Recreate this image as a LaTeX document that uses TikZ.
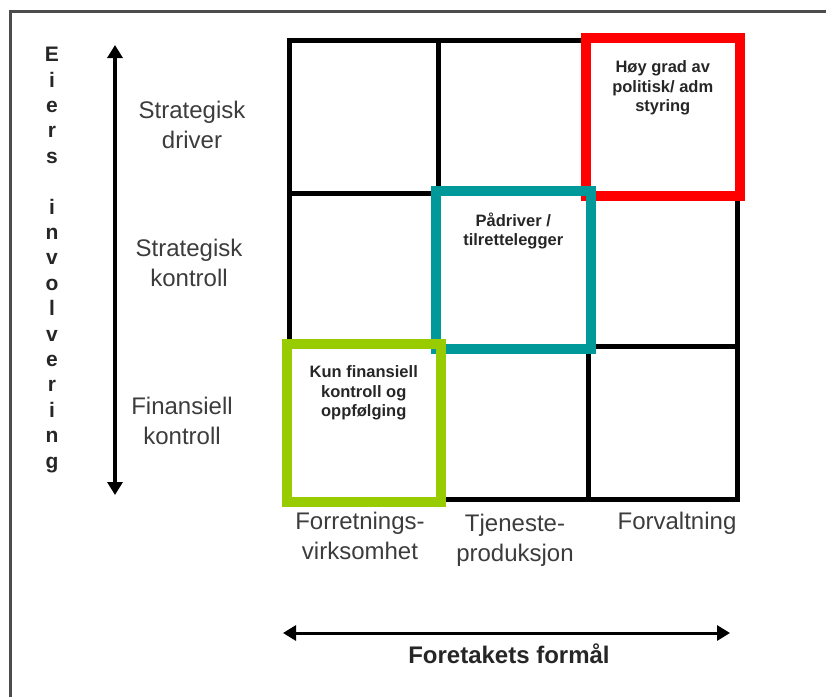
\documentclass[tikz,border=0pt]{standalone}
\usepackage{fontspec}
\setmainfont{Liberation Sans}
\usepackage{xcolor}
\usetikzlibrary{arrows.meta}
\definecolor{redbox}{RGB}{255,0,0}
\definecolor{tealbox}{RGB}{0,153,153}
\definecolor{greenbox}{RGB}{153,204,0}
\definecolor{labelgray}{RGB}{60,60,60}

\begin{document}
\begin{tikzpicture}[x=1pt, y=-1pt,
  cellbox/.style={draw=black, line width=5pt, minimum width=149.5pt, minimum height=153pt, inner sep=0pt},
  framebox/.style={line width=10pt},
  axislabel/.style={text=labelgray, font=\fontsize{24}{29.5}\selectfont, align=center, inner sep=0pt, anchor=north},
  boxlabel/.style={text=black!85, font=\bfseries\fontsize{16.5}{19.5}\selectfont, align=center, inner sep=0pt, anchor=north},
  axisarrow/.style={line width=3.5pt, {Triangle[length=13pt,width=15pt]}-{Triangle[length=13pt,width=15pt]}}]
  \useasboundingbox (0,0) rectangle (826,696);
  \draw[line width=3pt, black!70] (10,11) rectangle (860,740);

  \foreach \r in {0,1,2}
    \foreach \c in {0,1,2}
      \node[cellbox] (cell-\r-\c) at ({363.75+149.5*\c},{116.5+153*\r}) {};

  \draw[framebox, redbox] (cell-0-2.north west) rectangle (cell-0-2.south east);
  \draw[framebox, tealbox] (cell-1-1.north west) rectangle (cell-1-1.south east);
  \draw[framebox, greenbox] (cell-2-0.north west) rectangle (cell-2-0.south east);

  \node[boxlabel] (styring) at ([yshift=-23pt]cell-0-2.north) {Høy grad av\\politisk/ adm\\styring};
  \node[boxlabel] (padriver) at ([yshift=-22pt]cell-1-1.north) {Pådriver /\\tilrettelegger};
  \node[boxlabel] (finans) at ([yshift=-22pt]cell-2-0.north) {Kun finansiell\\kontroll og\\oppfølging};

  \node[axislabel] (row-driver) at (192,101) {Strategisk\\driver};
  \node[axislabel] (row-kontroll) at (189,239) {Strategisk\\kontroll};
  \node[axislabel] (row-finans) at (182,397) {Finansiell\\kontroll};

  \node[axislabel] (col-forretning) at (360,512) {Forretnings-\\virksomhet};
  \node[axislabel] (col-tjeneste) at (515,514) {Tjeneste-\\produksjon};
  \node[axislabel] (col-forvaltning) at (677,512) {Forvaltning};

  \node[text=black!85, font=\bfseries\fontsize{21}{25.4}\selectfont, align=center, inner sep=0pt, anchor=north]
    (eiers) at (52,47) {E\\i\\e\\r\\s\\\mbox{}\\i\\n\\v\\o\\l\\v\\e\\r\\i\\n\\g};

  \coordinate (v-top) at (115,45);
  \coordinate (v-bot) at (115,495);
  \draw[axisarrow] (v-bot) -- (v-top);

  \coordinate (h-left) at (283,633);
  \coordinate (h-right) at (730,633);
  \draw[axisarrow, line width=3pt] (h-left) -- (h-right);
  \node[text=black!85, font=\bfseries\fontsize{24}{29}\selectfont, anchor=base] (formal) at (509,663) {Foretakets formål};
\end{tikzpicture}
\end{document}
